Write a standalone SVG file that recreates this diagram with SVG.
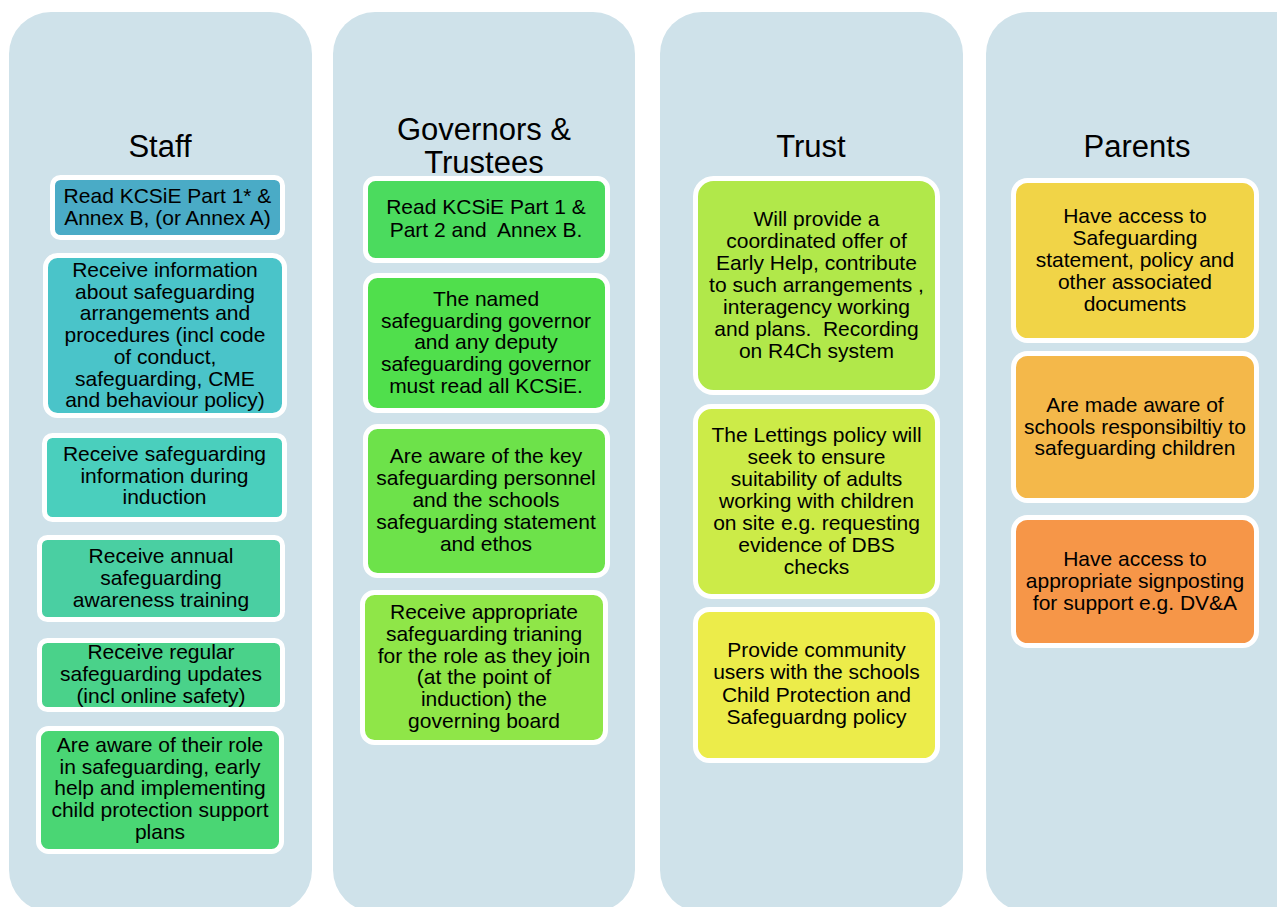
<svg xmlns="http://www.w3.org/2000/svg" width="1277" height="907" viewBox="0 0 1277 907">
<style>
.col{fill:#cfe2ea}
.box{stroke:#ffffff;stroke-width:5}
.t{font-family:"Liberation Sans",Arial,sans-serif;font-size:21px;fill:#000;text-anchor:middle;white-space:pre}
.h{font-family:"Liberation Sans",Arial,sans-serif;font-size:31px;fill:#000;text-anchor:middle}
</style>
<rect width="1277" height="907" fill="#ffffff"/>
<g id="col-staff">
<rect class="col" x="9" y="12" width="303" height="900" rx="42"/>
<text class="h" x="160" y="157">Staff</text>
</g>
<g id="col-gov">
<rect class="col" x="333" y="12" width="302" height="900" rx="42"/>
<text class="h" x="484" y="140">Governors &amp;</text>
<text class="h" x="484" y="173">Trustees</text>
</g>
<g id="col-trust">
<rect class="col" x="660" y="12" width="303" height="900" rx="42"/>
<text class="h" x="811" y="157">Trust</text>
</g>
<g id="col-parents">
<rect class="col" x="986" y="12" width="330" height="900" rx="42"/>
<text class="h" x="1137" y="157">Parents</text>
</g>

<g id="s1"><rect class="box" x="52.5" y="177.5" width="230" height="60" rx="8" fill="#4aabc6"/>
<text class="t" x="167.5"><tspan x="167.5" y="203">Read KCSiE Part 1* &amp;</tspan><tspan x="167.5" y="225">Annex B, (or Annex A)</tspan></text></g>
<g id="s2"><rect class="box" x="45.5" y="255.5" width="239" height="160" rx="12" fill="#4ac4c9"/>
<text class="t"><tspan x="165" y="277">Receive information</tspan><tspan x="165" y="299">about safeguarding</tspan><tspan x="165" y="320">arrangements and</tspan><tspan x="165" y="342">procedures (incl code</tspan><tspan x="165" y="364">of conduct,</tspan><tspan x="165" y="386">safeguarding, CME</tspan><tspan x="165" y="407">and behaviour policy)</tspan></text></g>
<g id="s3"><rect class="box" x="44.5" y="435.5" width="240" height="84" rx="8" fill="#4acfbd"/>
<text class="t"><tspan x="164.5" y="461">Receive safeguarding</tspan><tspan x="164.5" y="483">information during</tspan><tspan x="164.5" y="504">induction</tspan></text></g>
<g id="s4"><rect class="box" x="39.5" y="537.5" width="243" height="82" rx="8" fill="#4acfa2"/>
<text class="t"><tspan x="161" y="563">Receive annual</tspan><tspan x="161" y="585">safeguarding</tspan><tspan x="161" y="607">awareness training</tspan></text></g>
<g id="s5"><rect class="box" x="39.5" y="640.5" width="243" height="69" rx="8" fill="#4ad28a"/>
<text class="t"><tspan x="161" y="659">Receive regular</tspan><tspan x="161" y="681">safeguarding updates</tspan><tspan x="161" y="703">(incl online safety)</tspan></text></g>
<g id="s6"><rect class="box" x="38.5" y="728.5" width="243" height="123" rx="10" fill="#4ad674"/>
<text class="t"><tspan x="160" y="752">Are aware of their role</tspan><tspan x="160" y="774">in safeguarding, early</tspan><tspan x="160" y="795">help and implementing</tspan><tspan x="160" y="817">child protection support</tspan><tspan x="160" y="839">plans</tspan></text></g>

<g id="g1"><rect class="box" x="365.5" y="178.5" width="242" height="82" rx="10" fill="#4bdb5e"/>
<text class="t"><tspan x="486" y="214">Read KCSiE Part 1 &amp;</tspan><tspan x="486" y="237">Part 2 and  Annex B.</tspan></text></g>
<g id="g2"><rect class="box" x="365.5" y="275.5" width="242" height="135" rx="12" fill="#50df4c"/>
<text class="t"><tspan x="486" y="306">The named</tspan><tspan x="486" y="328">safeguarding governor</tspan><tspan x="486" y="349">and any deputy</tspan><tspan x="486" y="371">safeguarding governor</tspan><tspan x="486" y="393">must read all KCSiE.</tspan></text></g>
<g id="g3"><rect class="box" x="365.5" y="426.5" width="242" height="149" rx="12" fill="#6de24a"/>
<text class="t"><tspan x="486" y="463">Are aware of the key</tspan><tspan x="486" y="485">safeguarding personnel</tspan><tspan x="486" y="507">and the schools</tspan><tspan x="486" y="529">safeguarding statement</tspan><tspan x="486" y="551">and ethos</tspan></text></g>
<g id="g4"><rect class="box" x="362.5" y="592.5" width="243" height="150" rx="12" fill="#8fe648"/>
<text class="t"><tspan x="484" y="619">Receive appropriate</tspan><tspan x="484" y="641">safeguarding trianing</tspan><tspan x="484" y="663">for the role as they join</tspan><tspan x="484" y="684">(at the point of</tspan><tspan x="484" y="706">induction) the</tspan><tspan x="484" y="728">governing board</tspan></text></g>

<g id="t1"><rect class="box" x="695.5" y="178.5" width="242" height="214" rx="18" fill="#b1e84a"/>
<text class="t"><tspan x="816.5" y="226">Will provide a</tspan><tspan x="816.5" y="248">coordinated offer of</tspan><tspan x="816.5" y="270">Early Help, contribute</tspan><tspan x="816.5" y="292">to such arrangements ,</tspan><tspan x="816.5" y="314">interagency working</tspan><tspan x="816.5" y="336">and plans.  Recording</tspan><tspan x="816.5" y="358">on R4Ch system</tspan></text></g>
<g id="t2"><rect class="box" x="695.5" y="406.5" width="242" height="190" rx="16" fill="#cceb48"/>
<text class="t"><tspan x="816.5" y="442">The Lettings policy will</tspan><tspan x="816.5" y="464">seek to ensure</tspan><tspan x="816.5" y="486">suitability of adults</tspan><tspan x="816.5" y="508">working with children</tspan><tspan x="816.5" y="530">on site e.g. requesting</tspan><tspan x="816.5" y="552">evidence of DBS</tspan><tspan x="816.5" y="574">checks</tspan></text></g>
<g id="t3"><rect class="box" x="695.5" y="609.5" width="242" height="151" rx="14" fill="#ecec4a"/>
<text class="t"><tspan x="816.5" y="657">Provide community</tspan><tspan x="816.5" y="679">users with the schools</tspan><tspan x="816.5" y="702">Child Protection and</tspan><tspan x="816.5" y="724">Safeguardng policy</tspan></text></g>

<g id="p1"><rect class="box" x="1013.5" y="180.5" width="243" height="160" rx="14" fill="#f1d447"/>
<text class="t"><tspan x="1135" y="223">Have access to</tspan><tspan x="1135" y="245">Safeguarding</tspan><tspan x="1135" y="267">statement, policy and</tspan><tspan x="1135" y="289">other associated</tspan><tspan x="1135" y="311">documents</tspan></text></g>
<g id="p2"><rect class="box" x="1013.5" y="353.5" width="243" height="147" rx="14" fill="#f4b84a"/>
<text class="t"><tspan x="1135" y="412">Are made aware of</tspan><tspan x="1135" y="434">schools responsibiltiy to</tspan><tspan x="1135" y="455">safeguarding children</tspan></text></g>
<g id="p3"><rect class="box" x="1013.5" y="517.5" width="243" height="128" rx="14" fill="#f69648"/>
<text class="t"><tspan x="1135" y="566">Have access to</tspan><tspan x="1135" y="588">appropriate signposting</tspan><tspan x="1135" y="610">for support e.g. DV&amp;A</tspan></text></g>
<g id="connectors"/>
</svg>
